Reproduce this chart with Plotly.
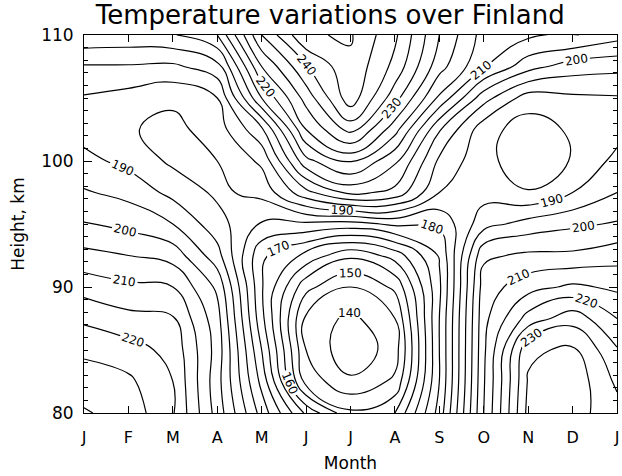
import plotly.graph_objects as go

# Month axis: 0 = January ... 12 = next January
months = [0, 1, 2, 3, 4, 5, 6, 7, 8, 9, 10, 11, 12]
month_labels = ["J", "F", "M", "A", "M", "J", "J", "A", "S", "O", "N", "D", "J"]

heights = [80, 82.5, 85, 87.5, 90, 92.5, 95, 97.5, 100, 102.5, 105, 107.5, 110]

# Temperature (K), one list per height (rows), one value per month
t_80 = [230.5, 228, 220.5, 203, 183, 164, 151, 155, 177, 210, 236.5, 237, 232]
t_82 = [227.5, 226, 220, 202, 178.5, 148, 141, 146, 175, 209.5, 235.5, 238.5, 229]
t_85 = [224, 222, 218.5, 203, 175, 145, 136, 142.5, 175, 209, 234, 236, 225.5]
t_87 = [219, 216.5, 215.5, 202, 171.5, 144, 138.5, 145, 175, 208.5, 222, 228, 220]
t_90 = [213, 211, 210, 199, 170.5, 151.5, 145, 151, 174, 207.5, 213, 216, 214]
t_92 = [206.5, 205, 203, 192, 171, 163.5, 156, 162, 175.5, 204, 206, 206, 208]
t_95 = [200.3, 198.5, 195, 187, 179.5, 179, 178, 181, 181, 193, 197, 199, 200.5]
t_97 = [195.5, 193.5, 188.5, 184, 186.5, 198.5, 206.5, 203.5, 190, 188, 185.3, 190, 195]
t_100 = [191.5, 188.5, 184, 185, 191, 213.5, 221, 211, 194, 186.5, 182, 185.3, 191.5]
t_102 = [188, 185.5, 183.5, 187.5, 199, 225, 237, 222, 200.5, 187, 182.5, 185.8, 188]
t_105 = [189.5, 188, 186, 190, 215, 232, 248, 232, 214, 197, 187.5, 189, 189.5]
t_107 = [194.5, 194.5, 194, 198, 225, 239.5, 249, 238.5, 222, 210.5, 202, 197.5, 196.5]
t_110 = [204, 203.5, 204.5, 210, 235, 249.5, 250.5, 241, 225, 213, 211, 210.5, 207]

temps = [t_80, t_82, t_85, t_87, t_90, t_92, t_95, t_97, t_100, t_102, t_105, t_107, t_110]

FONT = "DejaVu Sans"
BLACK = [[0, "black"], [1, "black"]]

fig = go.Figure()

# unlabelled intermediate isotherms (135, 145, ...)
fig.add_trace(go.Contour(
    x=months, y=heights, z=temps,
    contours=dict(coloring="lines", start=135, end=245, size=10, showlabels=False),
    colorscale=BLACK, showscale=False,
    line=dict(width=1.2, smoothing=1.3),
    hoverinfo="skip",
))

# labelled isotherms every 10 K
fig.add_trace(go.Contour(
    x=months, y=heights, z=temps,
    contours=dict(coloring="lines", start=140, end=250, size=10, showlabels=True,
                  labelfont=dict(family=FONT, size=12, color="black")),
    colorscale=BLACK, showscale=False,
    line=dict(width=1.2, smoothing=1.3),
    hoverinfo="skip",
))

fig.update_layout(
    width=622, height=476,
    margin=dict(l=84, r=5, t=35, b=63),
    paper_bgcolor="white", plot_bgcolor="white",
    font=dict(family=FONT, color="black"),
    title=dict(text="Temperature variations over Finland", x=0.531, xanchor="center",
               y=0.968, yanchor="middle", font=dict(size=26)),
    showlegend=False,
)

fig.update_xaxes(
    range=[0, 12], tickvals=months, ticktext=month_labels, automargin=False,
    ticks="inside", ticklen=7, tickcolor="black", mirror="ticks",
    showline=True, linecolor="black", linewidth=1, showgrid=False, zeroline=False,
    tickfont=dict(size=16), ticklabelstandoff=10,
    title=dict(text="Month", font=dict(size=17), standoff=10),
)
fig.update_yaxes(
    range=[80, 110], tickvals=[80, 90, 100, 110], automargin=False,
    ticks="inside", ticklen=8, tickcolor="black", mirror="ticks",
    minor=dict(dtick=1, ticks="inside", ticklen=4, tickcolor="black"),
    showline=True, linecolor="black", linewidth=1, showgrid=False, zeroline=False,
    tickfont=dict(size=17), ticklabelstandoff=6,
    title=dict(text="Height, km", font=dict(size=17), standoff=12),
)

# drop the browser's default page margin so the figure sits at the window origin
fig.write_html("out.html", config={"displayModeBar": False},
               post_script="document.body.style.margin='0px';")
